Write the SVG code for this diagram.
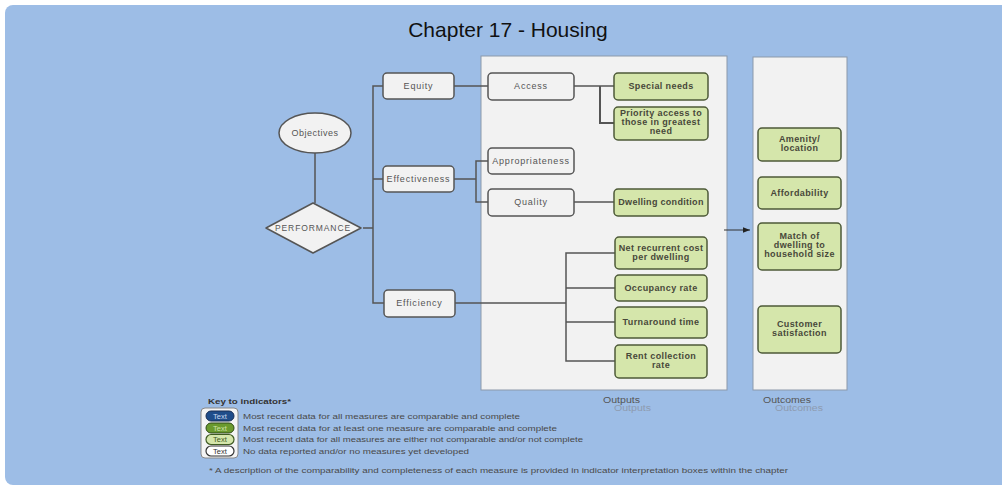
<svg xmlns="http://www.w3.org/2000/svg" width="1002" height="486" viewBox="0 0 1002 486">
<defs>
<style>
.bg{fill:#9dbde6}
.panel{fill:#f2f2f2;stroke:#8c99aa;stroke-width:1}
.gbox{fill:#f2f2f2;stroke:#555;stroke-width:1.5}
.green{fill:#d5e6ab;stroke:#4d5a38;stroke-width:1.5}
.t{font-family:"Liberation Sans",Arial,sans-serif;font-size:9px;letter-spacing:0.8px;fill:#555;text-anchor:middle}
.tg{font-family:"Liberation Sans",Arial,sans-serif;font-size:9px;font-weight:bold;letter-spacing:0.4px;fill:#48483a;text-anchor:middle}
.c{fill:none;stroke:#555;stroke-width:1.5}
.lg{font-family:"Liberation Sans",Arial,sans-serif;font-size:7.5px;fill:#4a4a4a}
.lab{font-family:"Liberation Sans",Arial,sans-serif;font-size:8.5px;fill:#555}
.ghost{font-family:"Liberation Sans",Arial,sans-serif;font-size:8.5px;fill:#8d9bb0}
.pt{font-family:"Liberation Sans",Arial,sans-serif;font-size:7.5px;text-anchor:middle}
</style>
<marker id="arr" viewBox="0 0 10 10" refX="10" refY="5" markerWidth="7" markerHeight="7" orient="auto" markerUnits="userSpaceOnUse">
<path d="M0,1 L10,5 L0,9 z" fill="#222"/>
</marker>
</defs>
<rect x="0" y="0" width="1002" height="486" fill="#ffffff"/>
<rect x="5" y="5" width="1010" height="480" rx="8" class="bg"/>
<text x="508" y="37" font-family="'Liberation Sans',Arial,sans-serif" font-size="21" fill="#111" text-anchor="middle">Chapter 17 - Housing</text>

<g id="outputs-panel">
<rect x="481" y="56" width="246" height="334" class="panel"/>
<text x="603" y="403" class="lab" textLength="37" lengthAdjust="spacingAndGlyphs">Outputs</text>
<text x="614" y="411" class="ghost" textLength="37" lengthAdjust="spacingAndGlyphs">Outputs</text>
</g>
<g id="outcomes-panel">
<rect x="753" y="57" width="94" height="333" class="panel"/>
<text x="763" y="403" class="lab" textLength="48" lengthAdjust="spacingAndGlyphs">Outcomes</text>
<text x="775" y="411" class="ghost" textLength="48" lengthAdjust="spacingAndGlyphs">Outcomes</text>
</g>

<g id="connectors">
<line x1="315" y1="153" x2="315" y2="203" class="c"/>
<line x1="363" y1="228" x2="373" y2="228" class="c"/>
<polyline points="383,86 373,86 373,303 384,303" class="c"/>
<line x1="373" y1="179" x2="383" y2="179" class="c"/>
<line x1="454" y1="86" x2="488" y2="86" class="c"/>
<line x1="574" y1="86" x2="614" y2="86" class="c"/>
<polyline points="600,86 600,123 614,123" class="c" style="stroke-width:2"/>
<line x1="454" y1="179" x2="476" y2="179" class="c"/>
<polyline points="488,161 476,161 476,202 488,202" class="c"/>
<line x1="574" y1="202" x2="614" y2="202" class="c"/>
<line x1="455" y1="303" x2="566" y2="303" class="c"/>
<polyline points="615,253 566,253 566,361 615,361" class="c"/>
<line x1="566" y1="288" x2="615" y2="288" class="c"/>
<line x1="566" y1="322" x2="615" y2="322" class="c"/>
<line x1="724" y1="230" x2="750" y2="230" stroke="#333" stroke-width="1" marker-end="url(#arr)"/>
</g>

<g id="objectives">
<ellipse cx="315" cy="133" rx="36" ry="20" fill="#f2f2f2" stroke="#555" stroke-width="1.5"/>
<text x="315" y="136" class="t" style="letter-spacing:0.5px">Objectives</text>
</g>
<g id="performance">
<path d="M266,228 L313,203 L361,228 L313,253 Z" fill="#f2f2f2" stroke="#555" stroke-width="1.5" stroke-linejoin="round"/>
<text x="313" y="231" class="t" style="font-size:8.5px;letter-spacing:0.9px">PERFORMANCE</text>
</g>
<g id="equity">
<rect x="383" y="73" width="71" height="26" rx="4" class="gbox"/>
<text x="418.5" y="89" class="t">Equity</text>
</g>
<g id="effectiveness">
<rect x="383" y="166" width="71" height="26" rx="4" class="gbox"/>
<text x="418.5" y="182" class="t">Effectiveness</text>
</g>
<g id="efficiency">
<rect x="384" y="290" width="71" height="27" rx="4" class="gbox"/>
<text x="419.5" y="306" class="t">Efficiency</text>
</g>
<g id="access">
<rect x="488" y="73" width="86" height="27" rx="4" class="gbox"/>
<text x="531" y="89" class="t">Access</text>
</g>
<g id="appropriateness">
<rect x="488" y="148" width="86" height="26" rx="4" class="gbox"/>
<text x="531" y="164" class="t">Appropriateness</text>
</g>
<g id="quality">
<rect x="488" y="189" width="86" height="27" rx="4" class="gbox"/>
<text x="531" y="205" class="t">Quality</text>
</g>
<g id="special-needs">
<rect x="614" y="73" width="94" height="27" rx="4" class="green"/>
<text x="661" y="89" class="tg">Special needs</text>
</g>
<g id="priority-access">
<rect x="614" y="107" width="94" height="33" rx="4" class="green"/>
<text class="tg"><tspan x="661" y="116">Priority access to</tspan><tspan x="661" y="125">those in greatest</tspan><tspan x="661" y="134">need</tspan></text>
</g>
<g id="dwelling-condition">
<rect x="614" y="189" width="94" height="27" rx="4" class="green"/>
<text x="661" y="205" class="tg" style="letter-spacing:0.3px">Dwelling condition</text>
</g>
<g id="net-recurrent-cost">
<rect x="615" y="237" width="92" height="32" rx="4" class="green"/>
<text class="tg"><tspan x="661" y="251">Net recurrent cost</tspan><tspan x="661" y="260">per dwelling</tspan></text>
</g>
<g id="occupancy-rate">
<rect x="615" y="275" width="92" height="26" rx="4" class="green"/>
<text x="661" y="291" class="tg">Occupancy rate</text>
</g>
<g id="turnaround-time">
<rect x="615" y="307" width="92" height="31" rx="4" class="green"/>
<text x="661" y="325" class="tg">Turnaround time</text>
</g>
<g id="rent-collection-rate">
<rect x="615" y="345" width="92" height="33" rx="4" class="green"/>
<text class="tg"><tspan x="661" y="359">Rent collection</tspan><tspan x="661" y="368">rate</tspan></text>
</g>

<g id="amenity-location">
<rect x="758" y="128" width="83" height="33" rx="4" class="green"/>
<text class="tg"><tspan x="799.5" y="142">Amenity/</tspan><tspan x="799.5" y="151">location</tspan></text>
</g>
<g id="affordability">
<rect x="758" y="177" width="83" height="32" rx="4" class="green"/>
<text x="799.5" y="196" class="tg">Affordability</text>
</g>
<g id="match-dwelling">
<rect x="758" y="223" width="83" height="47" rx="4" class="green"/>
<text class="tg"><tspan x="799.5" y="239">Match of</tspan><tspan x="799.5" y="248">dwelling to</tspan><tspan x="799.5" y="257">household size</tspan></text>
</g>
<g id="customer-satisfaction">
<rect x="758" y="306" width="83" height="47" rx="4" class="green"/>
<text class="tg"><tspan x="799.5" y="327">Customer</tspan><tspan x="799.5" y="336">satisfaction</tspan></text>
</g>

<g id="legend">
<text x="208" y="404" class="lg" style="font-weight:bold;fill:#333" textLength="83" lengthAdjust="spacingAndGlyphs">Key to indicators*</text>
<rect x="201" y="408" width="37" height="50" rx="4" fill="#f4f4f4" stroke="#888" stroke-width="1"/>
<rect x="206" y="411" width="28" height="10" rx="5" fill="#1f4d8a" stroke="#1a2f55" stroke-width="1"/>
<text x="220" y="418.5" class="pt" fill="#c9d8f0">Text</text>
<rect x="206" y="423" width="28" height="10" rx="5" fill="#6b9a2e" stroke="#2f4a16" stroke-width="1"/>
<text x="220" y="430.5" class="pt" fill="#cfe3a8">Text</text>
<rect x="206" y="434.5" width="28" height="10" rx="5" fill="#d5e6ab" stroke="#3e5a22" stroke-width="1.2"/>
<text x="220" y="442" class="pt" fill="#3e5a22">Text</text>
<rect x="206" y="446" width="28" height="10" rx="5" fill="#ffffff" stroke="#333" stroke-width="1.2"/>
<text x="220" y="453.5" class="pt" fill="#333">Text</text>
<text x="243" y="418.5" class="lg" textLength="277" lengthAdjust="spacingAndGlyphs">Most recent data for all measures are comparable and complete</text>
<text x="243" y="430.5" class="lg" textLength="314" lengthAdjust="spacingAndGlyphs">Most recent data for at least one measure are comparable and complete</text>
<text x="243" y="442" class="lg" textLength="340" lengthAdjust="spacingAndGlyphs">Most recent data for all measures are either not comparable and/or not complete</text>
<text x="243" y="454" class="lg" textLength="226" lengthAdjust="spacingAndGlyphs">No data reported and/or no measures yet developed</text>
<text x="209" y="473" class="lg" textLength="579" lengthAdjust="spacingAndGlyphs">* A description of the comparability and completeness of each measure is provided in indicator interpretation boxes within the chapter</text>
</g>
</svg>
